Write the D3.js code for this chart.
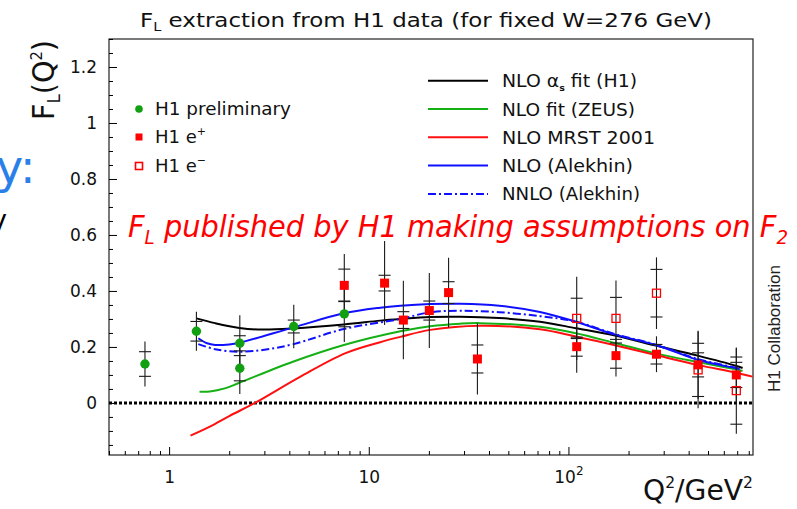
<!DOCTYPE html>
<html><head><meta charset="utf-8">
<script src="https://cdn.jsdelivr.net/npm/d3@7"></script>
<style>body{margin:0;background:#fff}svg{display:block}</style>
</head><body><svg id="c" width="797" height="509"></svg>
<script>
// Theory curves: [Q² (GeV²), F_L]
const h1FitCurve = [[1.37,0.302],[1.7,0.285],[2.25,0.268],[2.9,0.262],[4.2,0.266],[7.5,0.28],[11.4,0.294],[14.4,0.3],[20.3,0.307],[28.7,0.308],[45,0.303],[72,0.29],[109,0.267],[173,0.24],[274,0.205],[444,0.169],[688,0.133],[745,0.125]];
const zeusCurve = [[1.42,0.04],[1.6,0.041],[1.9,0.052],[2.25,0.072],[4.2,0.148],[7.5,0.207],[14.4,0.256],[20.3,0.274],[28.7,0.283],[36,0.285],[72,0.272],[109,0.249],[173,0.213],[274,0.177],[444,0.146],[688,0.12],[745,0.114]];
const mrstCurve = [[1.28,-0.117],[1.6,-0.085],[2.0,-0.047],[2.69,0.0],[4.55,0.094],[7.6,0.177],[11.4,0.217],[14.4,0.236],[20.3,0.261],[36,0.276],[72,0.263],[109,0.237],[173,0.205],[274,0.171],[444,0.136],[688,0.108],[836,0.094]];
const alekhinNloCurve = [[1.4,0.231],[1.55,0.213],[1.7,0.207],[2.0,0.209],[2.25,0.215],[4.2,0.27],[7.5,0.32],[11.4,0.34],[14.4,0.347],[20.3,0.353],[28.7,0.354],[45,0.347],[72,0.325],[109,0.29],[173,0.243],[274,0.207],[444,0.154],[688,0.124],[720,0.121]];
const alekhinNnloCurve = [[1.4,0.21],[1.7,0.192],[2.25,0.183],[3.0,0.19],[4.2,0.21],[7.5,0.264],[14.4,0.3],[20.3,0.324],[28.7,0.329],[45,0.324],[72,0.31],[109,0.29],[173,0.245],[274,0.208],[444,0.157],[688,0.126],[720,0.123]];

// H1 preliminary
const prelimQ2 = [0.757, 1.37, 2.26, 2.26, 4.21, 7.54];
const prelimFL = [0.139, 0.256, 0.213, 0.124, 0.273, 0.318];
const prelimStat = [0.044, 0.035, 0.027, 0.045, 0.023, 0.046];
const prelimTot = [0.08, 0.07, 0.1, 0.092, 0.078, 0.1];
// H1 e+
const ePlusQ2 = [7.54, 12.0, 14.9, 20.1, 25.1, 35.0, 110, 173, 276, 446, 693];
const ePlusFL = [0.42, 0.428, 0.296, 0.33, 0.394, 0.157, 0.201, 0.169, 0.174, 0.136, 0.1];
const ePlusStat = [0.058, 0.028, 0.03, 0.034, 0.039, 0.05, 0.034, 0.045, 0.035, 0.043, 0.045];
const ePlusTot = [0.112, 0.15, 0.14, 0.134, 0.125, 0.127, 0.093, 0.075, 0.064, 0.122, 0.095];
// H1 e-
const eMinusQ2 = [110, 173, 276, 446, 693];
const eMinusFL = [0.302, 0.302, 0.392, 0.118, 0.044];
const eMinusStat = [0.072, 0.075, 0.085, 0.095, 0.12];
const eMinusTot = [0.149, 0.135, 0.128, 0.137, 0.154];

const yMajorTicks = [0, 0.2, 0.4, 0.6, 0.8, 1, 1.2];
const yTickLabels = ["0", "0.2", "0.4", "0.6", "0.8", "1", "1.2"];
const xMajorTicks = [1, 10, 100];

const curveSeries = [
  {name: "NLO \u03b1", sub: "s", tail: " fit (H1)", data: h1FitCurve, color: "#000000", dash: null},
  {name: "NLO fit (ZEUS)", data: zeusCurve, color: "#14b014", dash: null},
  {name: "NLO MRST 2001", data: mrstCurve, color: "#ff1010", dash: null},
  {name: "NLO (Alekhin)", data: alekhinNloCurve, color: "#1010ff", dash: null},
  {name: "NNLO (Alekhin)", data: alekhinNnloCurve, color: "#1010ff", dash: "8,3,2,3"}
];
const legendWidths = [135, 133, 153, 131, 138];

const svg = d3.select("#c");
const L = 109, R = 753, T = 39, B = 455;
const x = d3.scaleLog().domain([0.5, 840]).range([L, R]);
const y = d3.scaleLinear().domain([-0.186, 1.3]).range([B, T]);

const sans = "'DejaVu Sans', sans-serif";

// Slide remnants on the left
svg.append("text").attr("x", -4).attr("y", 183).attr("fill", "#2a7fe8")
  .style("font", "46px 'DejaVu Sans', sans-serif").text("y:");
svg.append("text").attr("x", -9).attr("y", 229).attr("fill", "#000")
  .style("font", "27px 'DejaVu Sans', sans-serif").text("y");

// Title
const title = svg.append("text").attr("x", 140).attr("y", 27)
  .attr("textLength", 572).attr("lengthAdjust", "spacingAndGlyphs")
  .style("font", "19px " + sans).attr("fill", "#111");
title.append("tspan").text("F");
title.append("tspan").attr("dy", 4).style("font-size", "12px").text("L");
title.append("tspan").attr("dy", -4).text(" extraction from H1 data (for fixed W=276 GeV)");

// Frame
svg.append("rect").attr("x", L).attr("y", T).attr("width", R - L).attr("height", B - T)
  .attr("fill", "none").attr("stroke", "#222").attr("stroke-width", 1.2);

// Y axis: major and minor ticks inside the frame
const yMinor = d3.range(-0.15, 1.301, 0.05).map(v => +v.toFixed(2)).filter(v => !yMajorTicks.includes(v));
svg.append("g").attr("transform", `translate(${L},0)`)
  .call(d3.axisLeft(y).tickValues(yMinor).tickSize(-4).tickFormat(""))
  .call(g => g.select(".domain").remove());
svg.append("g").attr("transform", `translate(${L},0)`)
  .call(d3.axisLeft(y).tickValues(yMajorTicks).tickSize(-8).tickPadding(12)
    .tickFormat((d, i) => yTickLabels[i]))
  .call(g => g.select(".domain").remove())
  .call(g => g.selectAll("text").style("font", "17px " + sans).attr("fill", "#111"));

// X axis
const xMinor = [];
[0.1, 1, 10, 100].forEach(dec => { for (let k = 2; k <= 9; k++) { const v = dec * k; if (v >= 0.5 && v <= 840) xMinor.push(v); } });
svg.append("g").attr("transform", `translate(0,${B})`)
  .call(d3.axisBottom(x).tickValues(xMinor).tickSize(-4).tickFormat(""))
  .call(g => g.select(".domain").remove());
svg.append("g").attr("transform", `translate(0,${B})`)
  .call(d3.axisBottom(x).tickValues(xMajorTicks).tickSize(-8).tickPadding(16)
    .tickFormat(d => d === 100 ? "" : String(d)))
  .call(g => g.select(".domain").remove())
  .call(g => g.selectAll("text").style("font", "17px " + sans).attr("fill", "#111"))
  .call(g => g.selectAll(".tick").filter(d => d === 100).select("text")
    .call(t => { t.append("tspan").text("10"); t.append("tspan").attr("dy", -8).style("font-size", "12px").text("2"); }));

// Axis titles
const xt = svg.append("text").attr("x", R).attr("y", 500).attr("text-anchor", "end")
  .attr("textLength", 110).attr("lengthAdjust", "spacingAndGlyphs")
  .style("font", "29px " + sans).attr("fill", "#111");
xt.append("tspan").text("Q");
xt.append("tspan").attr("dy", -12).style("font-size", "16px").text("2");
xt.append("tspan").attr("dy", 12).text("/GeV");
xt.append("tspan").attr("dy", -12).style("font-size", "16px").text("2");

const yt = svg.append("text").attr("transform", "translate(54,80) rotate(-90)").attr("text-anchor", "middle")
  .attr("textLength", 80).attr("lengthAdjust", "spacingAndGlyphs")
  .style("font", "31px " + sans).attr("fill", "#111");
yt.append("tspan").text("F");
yt.append("tspan").attr("dy", 6).style("font-size", "18px").text("L");
yt.append("tspan").attr("dy", -6).text("(Q");
yt.append("tspan").attr("dy", -12).style("font-size", "16px").text("2");
yt.append("tspan").attr("dy", 12).text(")");

// Zero line
svg.append("line").attr("x1", L).attr("x2", R).attr("y1", y(0)).attr("y2", y(0))
  .attr("stroke", "#000").attr("stroke-width", 3).attr("stroke-dasharray", "3,2");

// Curves
const line = d3.line().x(d => x(d[0])).y(d => y(d[1])).curve(d3.curveCatmullRom.alpha(0.5));
curveSeries.forEach(s => {
  svg.append("path").attr("d", line(s.data)).attr("fill", "none")
    .attr("stroke", s.color).attr("stroke-width", 2)
    .attr("stroke-dasharray", s.dash);
});

// Error bars: full line for total error, ticks at statistical error
function errorBars(q2, fl, stat, tot) {
  const g = svg.append("g").attr("stroke", "#1a1a1a").attr("stroke-width", 1.1);
  q2.forEach((q, i) => {
    const cx = x(q);
    g.append("line").attr("x1", cx).attr("x2", cx).attr("y1", y(fl[i] + tot[i])).attr("y2", y(fl[i] - tot[i]));
    [fl[i] + stat[i], fl[i] - stat[i]].forEach(v => {
      g.append("line").attr("x1", cx - 6).attr("x2", cx + 6).attr("y1", y(v)).attr("y2", y(v));
    });
  });
}
errorBars(prelimQ2, prelimFL, prelimStat, prelimTot);
errorBars(ePlusQ2, ePlusFL, ePlusStat, ePlusTot);
errorBars(eMinusQ2, eMinusFL, eMinusStat, eMinusTot);

// Markers
const green = "#12a012", red = "#ff0000";
svg.append("g").selectAll("circle").data(prelimQ2).join("circle")
  .attr("cx", d => x(d)).attr("cy", (d, i) => y(prelimFL[i])).attr("r", 4.7).attr("fill", green);
svg.append("g").selectAll("rect").data(ePlusQ2).join("rect")
  .attr("x", d => x(d) - 4.5).attr("y", (d, i) => y(ePlusFL[i]) - 4.5).attr("width", 9).attr("height", 9).attr("fill", red);
svg.append("g").selectAll("rect").data(eMinusQ2).join("rect")
  .attr("x", d => x(d) - 4).attr("y", (d, i) => y(eMinusFL[i]) - 4).attr("width", 8).attr("height", 8)
  .attr("fill", "none").attr("stroke", red).attr("stroke-width", 1.3);

// Marker legend
const mleg = svg.append("g");
mleg.append("circle").attr("cx", 139).attr("cy", 109).attr("r", 3.8).attr("fill", green);
mleg.append("rect").attr("x", 135.5).attr("y", 133.5).attr("width", 7).attr("height", 7).attr("fill", red);
mleg.append("rect").attr("x", 135.5).attr("y", 162.5).attr("width", 7).attr("height", 7).attr("fill", "none").attr("stroke", red).attr("stroke-width", 1.6);
mleg.append("text").attr("x", 155).attr("y", 115).attr("textLength", 136).attr("lengthAdjust", "spacingAndGlyphs")
  .style("font", "18px " + sans).attr("fill", "#111").text("H1 preliminary");
[["+", 143], ["\u2212", 172]].forEach(([sgn, yy]) => {
  const t = mleg.append("text").attr("x", 155).attr("y", yy).style("font", "18px " + sans).attr("fill", "#111");
  t.append("tspan").text("H1 e");
  t.append("tspan").attr("dy", -8).style("font-size", "11px").text(sgn);
});

// Curve legend
const cleg = svg.append("g");
curveSeries.forEach((s, i) => {
  const yy = 80.7 + i * 28.3;
  cleg.append("line").attr("x1", 428).attr("x2", 488).attr("y1", yy).attr("y2", yy)
    .attr("stroke", s.color).attr("stroke-width", 2).attr("stroke-dasharray", s.dash);
  const t = cleg.append("text").attr("x", 502).attr("y", yy + 6.5)
    .attr("textLength", legendWidths[i]).attr("lengthAdjust", "spacingAndGlyphs")
    .style("font", "18px " + sans).attr("fill", "#111");
  t.append("tspan").text(s.name);
  if (s.sub) {
    t.append("tspan").attr("dy", 4).style("font-size", "9px").style("font-weight", "bold").text(s.sub);
    t.append("tspan").attr("dy", -4).text(s.tail);
  }
});

// Annotation
const note = svg.append("text").attr("x", 128).attr("y", 237)
  .attr("textLength", 660).attr("lengthAdjust", "spacingAndGlyphs")
  .style("font", "italic 30px 'DejaVu Sans', sans-serif").attr("fill", "#ff0000");
note.append("tspan").text("F");
note.append("tspan").attr("dy", 7).style("font-size", "19px").text("L");
note.append("tspan").attr("dy", -7).text(" published by H1 making assumptions on F");
note.append("tspan").attr("dy", 7).style("font-size", "19px").text("2");

// Collaboration tag
svg.append("text").attr("transform", "translate(780,392) rotate(-90)")
  .attr("textLength", 127).attr("lengthAdjust", "spacingAndGlyphs")
  .style("font", "16px 'Liberation Sans', Arial, sans-serif").attr("fill", "#222").text("H1 Collaboration");
</script></body></html>
